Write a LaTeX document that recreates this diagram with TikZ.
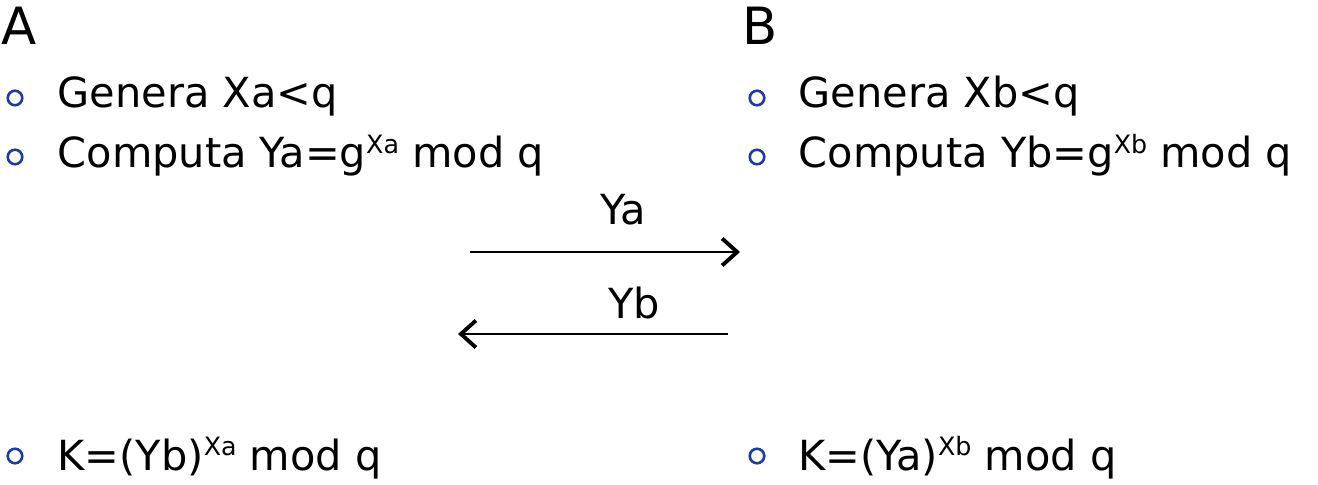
\documentclass[tikz,border=0pt]{standalone}
\usepackage{fontspec}
\setmainfont{DejaVu Sans}
\usepackage{tikz}
\usetikzlibrary{arrows.meta,positioning}
\definecolor{bulletblue}{HTML}{1F3C9B}

% superscript as the slide sets it
\newcommand{\supx}[1]{\raisebox{4.2pt}{\fontsize{7.2}{8}\selectfont #1}}

\begin{document}
\begin{tikzpicture}[
  x=0.01cm, y=-0.01cm,
  party/.style={anchor=base west, inner sep=0pt, font=\fontsize{14.6}{16}\selectfont},
  item/.style={anchor=base west, inner sep=0pt, font=\fontsize{11.8}{14}\selectfont},
  bullet/.style={circle, draw=bulletblue, line width=0.75pt, minimum size=0.145cm, inner sep=0pt},
  msg/.style={-{Straight Barb[length=1.5mm,width=2.7mm,line width=1.1pt]}, line width=0.45pt},
  msglabel/.style={inner sep=0pt, font=\fontsize{11.8}{14}\selectfont}
]
\useasboundingbox (0,0) rectangle (1318,485);

% -- Two parties, each with its own column of steps.
\node[party] (pA) at (1,45)   {A};
\node[party] (pB) at (742,45) {B};

\node[bullet] (ba1) at (15,98)  {};
\node[item]   (a1)  at (57,108) {Genera Xa<q};
\node[bullet] (ba2) at (15,157) {};
\node[item]   (a2)  at (57,168) {Computa Ya=g\supx{Xa} mod q};

\node[bullet] (bb1) at (757,98)  {};
\node[item]   (b1)  at (798,108) {Genera Xb<q};
\node[bullet] (bb2) at (757,157) {};
\node[item]   (b2)  at (798,168) {Computa Yb=g\supx{Xb} mod q};

% -- Exchange of the public values.
\coordinate (yaL) at (470,252);
\coordinate (yaR) at (740,252);
\coordinate (ybR) at (728,334);
\coordinate (ybL) at (458,334);
\draw[msg] (yaL) -- (yaR);
\node[msglabel, anchor=base] (lya) at (623,225) {Ya};
\draw[msg] (ybR) -- (ybL);
\node[msglabel, anchor=base] (lyb) at (634,318) {Yb};

% -- Shared key on both sides.
\node[bullet] (ba3) at (15,456)  {};
\node[item]   (a3)  at (57,470)  {K=(Yb)\supx{Xa} mod q};
\node[bullet] (bb3) at (757,456) {};
\node[item]   (b3)  at (798,470) {K=(Ya)\supx{Xb} mod q};
\end{tikzpicture}
\end{document}
